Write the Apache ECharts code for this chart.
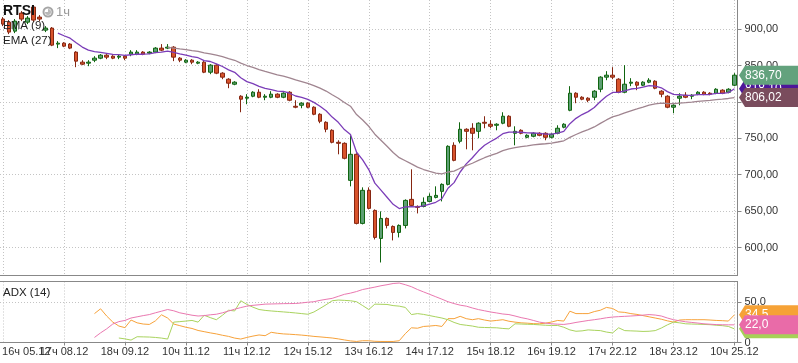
<!DOCTYPE html>
<html><head><meta charset="utf-8">
<script src="https://cdn.jsdelivr.net/npm/echarts@6/dist/echarts.min.js"></script>
<style>html,body{margin:0;padding:0;background:#fff}#c{width:798px;height:363px}</style>
</head><body><div id="c"></div>
<script>
// trading sessions: [date, first hour, last hour]
const sessions = [['05.12',16,18],['08.12',10,18],['09.12',10,18],['10.12',10,18],['11.12',10,18],['12.12',10,18],['15.12',10,18],['16.12',10,18],['17.12',10,18],['18.12',10,18],['19.12',10,18],['22.12',10,18],['23.12',10,18],['24.12',10,18],['25.12',10,10]];
const categories = [];
sessions.forEach(([d,a,b]) => { for (let h=a; h<=b; h++) categories.push(h + 'ч ' + d); });

// RTSI hourly candles: [open, close, low, high]
const rtsi = [
[913.8,906.9,904.1,916.5],[909.6,895.9,893.1,912.4],[897.2,911.0,894.5,913.8],[922.0,913.8,911.0,924.8],
[909.6,915.1,906.9,917.9],[930.3,912.4,909.6,933.0],[916.5,913.8,911.0,919.3],[898.6,901.4,895.9,904.1],
[901.4,878.0,876.6,902.8],[879.4,880.7,873.9,883.5],[880.7,876.6,875.2,882.1],[879.4,873.9,872.5,880.7],
[868.4,856.0,847.7,869.7],[854.6,851.8,850.5,857.3],[853.2,854.6,849.1,857.3],[857.3,860.1,854.6,862.8],
[860.1,864.2,858.7,865.6],[864.2,861.5,858.7,865.6],[862.8,860.1,858.7,864.2],[861.5,862.8,858.7,865.6],
[862.8,860.1,857.3,864.2],[865.6,868.4,862.8,871.1],[865.6,868.4,864.2,871.1],[868.4,865.6,864.2,869.7],
[867.0,868.4,865.6,869.7],[868.4,873.9,867.0,875.2],[873.9,871.1,869.7,879.4],[873.9,875.2,872.5,879.4],
[875.2,861.5,856.0,876.6],[860.1,857.3,854.6,861.5],[854.6,857.3,853.2,858.7],[857.3,854.6,851.8,858.7],
[853.2,854.6,851.8,856.0],[854.6,840.8,839.5,856.0],[840.8,850.5,838.1,851.8],[850.5,839.5,838.1,851.8],
[839.5,834.0,831.2,840.8],[831.2,825.7,818.8,832.6],[824.3,827.1,822.9,828.4],[807.8,803.7,785.8,809.2],
[805.1,806.4,796.8,810.6],[807.8,813.3,806.4,814.7],[813.3,806.4,805.1,817.4],[806.4,807.8,802.3,810.6],
[806.4,810.6,805.1,814.7],[810.6,806.4,805.1,811.9],[806.4,811.9,805.1,813.3],[813.3,802.3,800.9,814.7],
[794.0,792.7,791.3,802.3],[795.4,798.2,791.3,799.6],[798.2,792.7,791.3,799.6],[792.7,783.0,781.7,794.0],
[783.0,773.4,770.7,784.4],[772.0,762.4,758.3,773.4],[761.0,744.5,743.1,762.4],[744.5,743.1,728.0,747.3],
[743.1,722.5,721.1,744.5],[692.2,728.0,684.0,754.1],[728.0,633.1,631.7,729.4],[633.1,678.5,631.7,682.6],
[678.5,653.7,652.3,682.6],[650.9,613.8,611.0,652.3],[612.4,639.9,579.4,649.6],[639.9,630.3,626.2,641.3],
[628.9,620.7,609.7,630.3],[620.7,630.3,613.8,631.7],[630.3,664.7,626.2,666.1],[666.1,657.8,656.4,707.4],
[656.4,655.1,646.8,657.8],[656.4,662.0,655.1,668.8],[663.3,670.2,662.0,674.4],[668.8,671.6,667.5,684.0],
[677.1,686.7,663.3,688.1],[686.7,739.0,685.3,740.4],[740.4,719.7,718.4,744.5],[745.9,762.4,743.1,772.0],
[762.4,759.6,734.9,763.8],[763.8,756.9,733.5,770.7],[759.6,770.7,750.0,772.0],[772.0,770.7,763.8,780.3],
[769.3,766.5,763.8,774.8],[767.9,769.3,761.0,770.7],[770.7,780.3,769.3,785.8],[780.3,766.5,765.2,781.7],
[756.9,759.6,740.4,766.5],[761.0,756.9,755.5,762.4],[751.4,754.1,750.0,755.5],[752.8,756.9,751.4,758.3],
[756.9,754.1,752.8,758.3],[756.9,751.4,747.3,758.3],[751.4,755.5,750.0,756.9],[756.9,763.8,755.5,767.9],
[765.2,769.3,763.8,770.7],[788.5,811.9,787.2,821.6],[811.9,806.4,798.2,813.3],[806.4,803.7,802.3,807.8],
[805.1,802.3,799.6,806.4],[806.4,814.7,802.3,816.1],[817.4,834.0,813.3,835.3],[834.0,836.7,829.8,842.2],
[836.7,834.0,831.2,847.7],[831.2,813.3,811.9,832.6],[813.3,824.3,811.9,850.5],[825.7,827.1,821.6,832.6],
[827.1,822.9,816.1,828.4],[822.9,827.1,821.6,828.4],[827.1,829.8,825.7,832.6],[828.4,818.8,817.4,829.8],
[814.7,810.6,806.4,816.1],[807.8,792.7,791.3,809.2],[792.7,795.4,784.4,796.8],[805.1,807.8,795.4,811.9],
[809.2,806.4,805.1,813.3],[807.8,809.2,803.7,810.6],[810.6,813.3,809.2,814.7],[813.3,810.6,809.2,814.7],
[811.9,810.6,809.2,813.3],[811.9,817.4,810.6,818.8],[816.1,811.9,810.6,817.4],[813.3,817.4,811.9,818.8],
[822.9,836.7,821.6,839.5]
];

function lead(n, arr){ return new Array(n).fill(null).concat(arr); }

// EMA(9), starts at bar 9
const ema9 = lead(9, [
894.5,890.9,887.5,881.2,875.3,871.2,869.0,868.0,866.7,865.4,
864.9,863.9,864.8,865.5,865.5,866.1,867.7,868.4,869.7,868.1,
865.9,864.2,862.3,860.7,856.7,855.5,852.3,848.6,844.0,840.6,
833.2,827.9,825.0,821.3,818.6,817.0,814.9,814.3,811.9,808.1,
806.1,803.4,799.3,794.1,787.8,779.1,771.9,762.0,755.2,730.8,
720.3,707.0,688.4,678.7,669.0,659.3,653.5,655.7,656.1,655.9,
657.1,659.7,662.1,667.0,681.4,689.1,703.7,714.9,723.3,732.8,
740.4,745.6,750.3,756.3,758.4,758.6,758.3,757.4,757.3,756.7,
755.6,755.6,757.2,759.6,770.1,777.4,782.6,786.6,792.2,800.6,
807.8,813.0,813.1,815.3,817.7,818.7,820.4,822.3,821.6,819.4,
814.1,810.3,809.8,809.1,809.1,809.9,810.1,810.2,811.6,811.7,
812.8,818.1]);

// EMA(27), starts at bar 27
const ema27 = lead(27, [
875.0,874.0,872.8,871.7,870.5,869.4,867.3,866.1,864.2,862.1,
859.5,857.2,853.4,850.0,847.4,844.5,841.9,839.6,837.2,835.4,
833.1,830.2,827.9,825.4,822.4,818.9,814.9,809.9,805.1,799.2,
794.1,782.6,775.2,766.5,755.6,747.3,739.0,730.5,723.4,719.2,
714.8,710.5,707.1,704.4,702.1,701.0,703.7,704.8,708.9,712.5,
715.7,719.6,723.3,726.4,729.4,733.0,735.4,737.1,738.5,739.6,
740.9,741.8,742.5,743.4,744.9,746.6,751.3,755.2,758.7,761.8,
765.6,770.5,775.2,779.4,781.8,784.8,787.8,790.3,792.9,795.6,
797.3,798.2,797.8,797.6,798.4,798.9,799.7,800.6,801.4,802.0,
803.1,803.7,804.7,806.02]);

// ADX(14) panel
const adx = lead(15, [
6.3,12,17,23,26,27.5,30.5,32,33.5,34.8,
37,39,41.1,39.5,37,35.5,34,33,33.5,34.5,
35.2,37,39.2,41.5,43.5,45.3,46.3,47,47.8,48,
48.2,48.4,48.5,48.6,49.3,50.2,50.8,52.5,53.8,55,
57.5,60,61.5,63.5,66,67.5,69,70.7,72,73.5,
74.1,72,69.5,66,63,60,57,54,50.8,48.5,
46.5,45.3,43,41,39.5,38,36.8,35.5,34.8,33,
31,29.5,27.5,25.4,24.2,23.3,22.8,22.5,23.5,25,
26.2,27.4,28.4,29.5,30.8,31.7,32.2,32.6,33,33.5,
34.1,34.8,34.2,33,30.5,28.4,27,25.8,25,24.2,
23.3,22.8,22.3,22.1,22,22.0]);
const plusDI = lead(15, [
36,42,33,25.5,20.5,18.5,28,24.5,23,22.5,
27,34.5,30.5,23,21,19,17.5,15,13.5,12,
10.7,9,7.6,5.5,4.3,6.3,8,9.4,8.5,12.7,
11.5,10.7,10.3,9.8,9.2,8.5,7.6,7,6.3,5.6,
4.5,3.2,2,1.3,2.2,2.2,1.5,1.3,1.3,1.3,
2.2,11,18.3,17.8,20,20.5,21.2,20,29.7,29.7,
32.6,29.7,28.4,29.7,28,26.7,27.5,28.4,26.5,25.4,
24.5,24.1,23.5,23.3,24.1,25.5,27.5,26.7,39,36,
36,36,38.5,40.2,43.7,42.4,38.1,37.5,36,35,
33.5,32,30.5,29,27,25.4,28,28.4,28.4,28.4,
28.4,28,27.5,27.2,26.7,34.5]);
const minusDI = lead(19, [
5.6,4.5,3,7.2,7,6.8,6.3,5.5,4.3,25.4,
26,26.7,27.5,25.4,33.9,31,28.4,34,40.2,39.3,
52,47.5,44,41.1,40,39.3,38.7,38.1,37.5,36.8,
36,35.2,38,42.4,47,52,52.9,52.5,52,50.8,
46,41.1,47.8,47.6,47.4,46,45.3,43.7,34.8,36,
35,33.5,32,30.5,28.4,25,22.5,21.5,20.5,19,
18.7,18.5,18.3,17.5,17,23.3,23,22.7,22.5,22,
21.5,21.2,21.2,19,15.7,14,14.5,15.7,15.2,14.8,
13,11.9,18.3,14.8,14.5,14.2,13.8,14,14.8,18,
22,25.4,24.5,23.3,23,22.8,22.5,22.2,21.5,21,
20,17]);

const FONT = 'Liberation Sans, Arial, sans-serif';
const gridCol = '#c4c4c4', axisCol = '#888', txtCol = '#333';
const tenth = (i) => i % 10 === 0;

const chart = echarts.init(document.getElementById('c'), null, {renderer: 'canvas'});
const xBase = {
  type: 'category', data: categories, boundaryGap: true,
  axisLine: {show: true, lineStyle: {color: axisCol}},
  splitLine: {show: true, interval: tenth, alignWithLabel: true, lineStyle: {color: gridCol, type: [1, 2]}}
};
chart.setOption({
  animation: false,
  backgroundColor: '#fff',
  textStyle: {fontFamily: FONT},
  grid: [
    {left: 0, top: 0, width: 737.5, height: 275.5, containLabel: false, outerBoundsMode: 'none'},
    {left: 0, top: 281.5, width: 737.5, height: 61, containLabel: false, outerBoundsMode: 'none'}
  ],
  xAxis: [
    Object.assign({}, xBase, {gridIndex: 0, axisTick: {show: false}, axisLabel: {show: false}}),
    Object.assign({}, xBase, {gridIndex: 1,
      axisTick: {show: true, interval: tenth, alignWithLabel: true, length: 3, lineStyle: {color: axisCol}},
      axisLabel: {show: true, interval: tenth, margin: 4, color: txtCol, fontSize: 11, fontFamily: FONT,
        showMinLabel: false, showMaxLabel: true}})
  ],
  yAxis: [
    {gridIndex: 0, type: 'value', position: 'right', min: 561.5, max: 940, splitNumber: 7, scale: true,
     axisLine: {show: true, lineStyle: {color: axisCol}},
     axisTick: {show: true, length: 4, lineStyle: {color: axisCol}},
     axisLabel: {margin: 7, color: txtCol, fontSize: 11, fontFamily: FONT, showMinLabel: false, showMaxLabel: false,
       formatter: v => v.toFixed(2).replace('.', ',')},
     splitLine: {show: true, showMinLine: false, showMaxLine: false, lineStyle: {color: gridCol, type: [1, 2]}}},
    {gridIndex: 1, type: 'value', position: 'right', min: 0, max: 76, interval: 50,
     axisLine: {show: true, lineStyle: {color: axisCol}},
     axisTick: {show: true, length: 4, lineStyle: {color: axisCol}},
     axisLabel: {margin: 7, color: txtCol, fontSize: 11, fontFamily: FONT, showMaxLabel: false,
       formatter: v => v === 0 ? '0' : v.toFixed(1).replace('.', ',')},
     splitLine: {show: true, showMinLine: false, showMaxLine: false, lineStyle: {color: gridCol, type: [1, 2]}}}
  ],
  series: [
    {type: 'candlestick', name: 'RTSI', xAxisIndex: 0, yAxisIndex: 0, data: rtsi, barWidth: 4, silent: true,
     itemStyle: {color: '#5e9f74', color0: '#d8532c', borderColor: '#0f650f', borderColor0: '#862611', borderWidth: 1}},
    {type: 'line', name: 'EMA (9)', xAxisIndex: 0, yAxisIndex: 0, data: ema9, symbol: 'none', silent: true,
     lineStyle: {color: '#7b3db8', width: 1.3}},
    {type: 'line', name: 'EMA (27)', xAxisIndex: 0, yAxisIndex: 0, data: ema27, symbol: 'none', silent: true,
     lineStyle: {color: '#a08590', width: 1.3}},
    {type: 'line', name: '+DI', xAxisIndex: 1, yAxisIndex: 1, data: plusDI, symbol: 'none', silent: true,
     lineStyle: {color: '#f7a23a', width: 1}},
    {type: 'line', name: '-DI', xAxisIndex: 1, yAxisIndex: 1, data: minusDI, symbol: 'none', silent: true,
     lineStyle: {color: '#a9d35e', width: 1}},
    {type: 'line', name: 'ADX', xAxisIndex: 1, yAxisIndex: 1, data: adx, symbol: 'none', silent: true,
     lineStyle: {color: '#ea78b0', width: 1}}
  ]
});

// price tags on the right axes
const last = categories.length - 1;
const tags = [
  {axis: 0, v: ema9[last], color: '#4e1799', dec: 2},
  {axis: 0, v: rtsi[last][1], color: '#63a27d', dec: 2},
  {axis: 0, v: ema27[last], color: '#7a4c5d', dec: 2},
  {axis: 1, v: plusDI[last], color: '#f6a236', dec: 1},
  {axis: 1, v: minusDI[last], color: '#a6d157', dec: 1},
  {axis: 1, v: adx[last], color: '#e96ba8', dec: 1}
];
const g = [];
tags.forEach((t, k) => {
  const cy = chart.convertToPixel({yAxisIndex: t.axis}, t.v);
  const h = 9.5;
  g.push({type: 'polygon', z: 100 + k * 2, silent: true,
    shape: {points: [[739, cy], [745, cy - h], [800, cy - h], [800, cy + h], [745, cy + h]]},
    style: {fill: t.color}});
  g.push({type: 'text', z: 101 + k * 2, silent: true, x: 745, y: cy,
    style: {text: t.v.toFixed(t.dec).replace('.', ','), fill: '#fff', font: '12px ' + FONT, textVerticalAlign: 'middle'}});
});
// first category label (left-aligned at its tick, under the neighbouring label)
const x0 = chart.convertToPixel({xAxisIndex: 1}, categories[0]);
const yLbl = chart.convertToPixel({yAxisIndex: 1}, 0) + 4;
g.push({type: 'text', z: -1, silent: true, x: x0 - 1, y: yLbl,
  style: {text: categories[0], font: '11px ' + FONT, fill: txtCol, textVerticalAlign: 'top'}});
// legend / titles
g.push({type: 'text', z: 200, silent: true, x: 3, y: 11, style: {text: 'RTSI', font: 'bold 14px ' + FONT, fill: '#111', textVerticalAlign: 'middle'}});
g.push({type: 'circle', z: 200, silent: true, shape: {cx: 48, cy: 12, r: 4.5}, style: {fill: '#fff', stroke: '#a6a6a6', lineWidth: 2}});
g.push({type: 'sector', z: 201, silent: true, shape: {cx: 48, cy: 12, r: 3, startAngle: -Math.PI / 2, endAngle: Math.PI}, style: {fill: '#b8b8b8'}});
g.push({type: 'text', z: 200, silent: true, x: 56, y: 12, style: {text: '1ч', font: '13px ' + FONT, fill: '#9a9a9a', textVerticalAlign: 'middle'}});
g.push({type: 'text', z: 200, silent: true, x: 3, y: 26, style: {text: 'EMA (9)', font: '11.5px ' + FONT, fill: '#222', textVerticalAlign: 'middle'}});
g.push({type: 'text', z: 200, silent: true, x: 3, y: 41, style: {text: 'EMA (27)', font: '11.5px ' + FONT, fill: '#222', textVerticalAlign: 'middle'}});
g.push({type: 'text', z: 200, silent: true, x: 3, y: 293, style: {text: 'ADX (14)', font: '11.5px ' + FONT, fill: '#222', textVerticalAlign: 'middle'}});
g.push({type: 'line', z: 50, silent: true, shape: {x1: 0, y1: 281.5, x2: 738, y2: 281.5}, style: {stroke: axisCol, lineWidth: 1}});
chart.setOption({graphic: g});
</script></body></html>
